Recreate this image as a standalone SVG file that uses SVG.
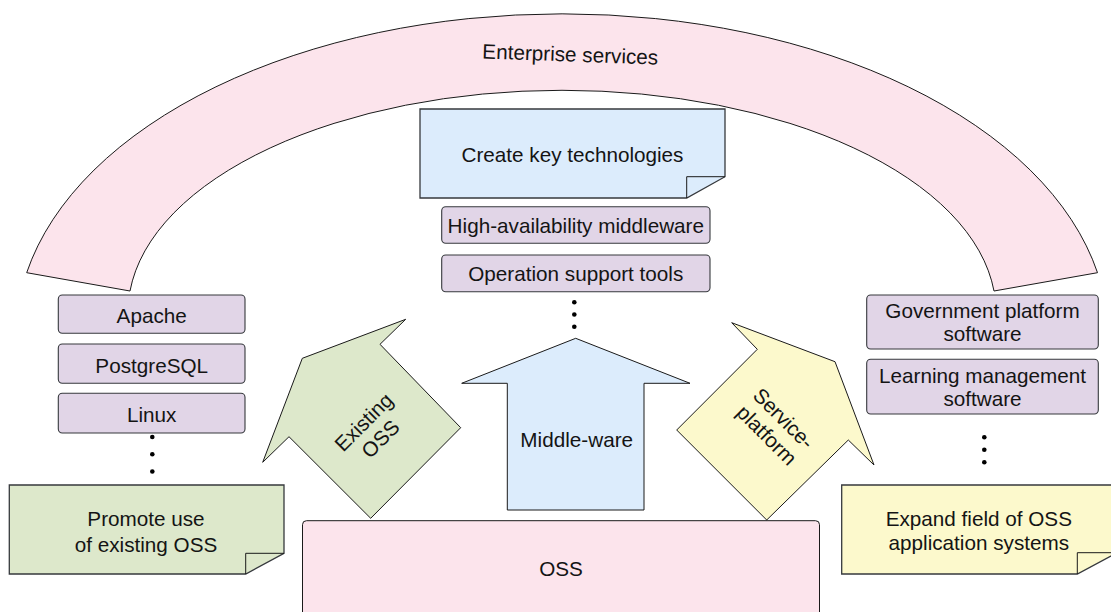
<svg xmlns="http://www.w3.org/2000/svg" width="1111" height="612" viewBox="0 0 1111 612">
<defs>
<style>
.t{font-family:"Liberation Sans",Arial,Helvetica,sans-serif;font-size:20.7px;fill:#141414;text-anchor:middle}
.box{fill:#e1d5e7;stroke:#36393d;stroke-width:1.1}
.pink{fill:#fce4ec;stroke:#1a1a1a;stroke-width:1}
.blue{fill:#dcecfc;stroke:#1a1a1a;stroke-width:1}
.green{fill:#dde8cb;stroke:#1a1a1a;stroke-width:1}
.yellow{fill:#fcf9cc;stroke:#1a1a1a;stroke-width:1}
.note{stroke:#36393d;stroke-width:1.3}
.fold{fill:none;stroke:#1a1a1a;stroke-width:1}
.dot{fill:#000}
</style>
</defs>
<rect width="1111" height="612" fill="#ffffff"/>

<g id="enterprise-services">
<path class="pink" d="M26.7,272.7 A546,322 0 0 1 1097.5,272.7 L994,291 A434,222 0 0 0 130,291 Z"/>
<text class="t" transform="translate(570,61.5) rotate(2)">Enterprise services</text>
</g>

<g id="oss">
<rect class="pink" x="302.5" y="520.7" width="517" height="110" rx="4"/>
<text class="t" x="561" y="575.5">OSS</text>
</g>

<g id="create-key-technologies">
<path class="blue note" d="M420,109 H725 V176.7 L686.7,198 H420 Z"/>
<path class="fold" d="M686.7,198 V176.7 H725"/>
<text class="t" x="572.5" y="161.7">Create key technologies</text>
</g>

<g id="high-availability-middleware">
<rect class="box" x="441.7" y="206.7" width="268.3" height="36.6" rx="4"/>
<text class="t" x="575.8" y="232.7">High-availability middleware</text>
</g>

<g id="operation-support-tools">
<rect class="box" x="441.7" y="255" width="268.3" height="36.7" rx="4"/>
<text class="t" x="575.8" y="281">Operation support tools</text>
</g>

<g id="middle-dots">
<circle class="dot" cx="574.3" cy="302.3" r="2.3"/>
<circle class="dot" cx="574.3" cy="314.5" r="2.3"/>
<circle class="dot" cx="574.3" cy="326.7" r="2.3"/>
</g>

<g id="apache">
<rect class="box" x="58.3" y="295" width="186.7" height="38.3" rx="4"/>
<text class="t" x="151.7" y="322.7">Apache</text>
</g>
<g id="postgresql">
<rect class="box" x="58.3" y="344" width="186.7" height="39.3" rx="4"/>
<text class="t" x="151.7" y="372.7">PostgreSQL</text>
</g>
<g id="linux">
<rect class="box" x="58.3" y="393.3" width="186.7" height="39.7" rx="4"/>
<text class="t" x="151.7" y="421.7">Linux</text>
</g>
<g id="left-dots">
<circle class="dot" cx="152.3" cy="437" r="2.3"/>
<circle class="dot" cx="152.3" cy="454.3" r="2.3"/>
<circle class="dot" cx="152.3" cy="471.5" r="2.3"/>
</g>

<g id="government-platform-software">
<rect class="box" x="866.7" y="295" width="231.6" height="54" rx="4"/>
<text class="t" x="982.5" y="318.3">Government platform</text>
<text class="t" x="982.5" y="341.3">software</text>
</g>
<g id="learning-management-software">
<rect class="box" x="866.7" y="359.3" width="231.6" height="54.7" rx="4"/>
<text class="t" x="982.5" y="382.7">Learning management</text>
<text class="t" x="982.5" y="405.5">software</text>
</g>
<g id="right-dots">
<circle class="dot" cx="984.3" cy="437.3" r="2.3"/>
<circle class="dot" cx="984.3" cy="449.8" r="2.3"/>
<circle class="dot" cx="984.3" cy="462.3" r="2.3"/>
</g>

<g id="promote-use">
<path class="green note" d="M9.3,485 H284 V553.3 L245.7,574 H9.3 Z"/>
<path class="fold" d="M245.7,574 V553.3 H284"/>
<text class="t" x="146" y="526">Promote use</text>
<text class="t" x="146" y="551.7">of existing OSS</text>
</g>

<g id="expand-field">
<path class="yellow note" d="M841.7,485 H1117 V552.7 L1077.3,574 H841.7 Z"/>
<path class="fold" d="M1077.3,574 V552.7 H1117"/>
<text class="t" x="978.8" y="526">Expand field of OSS</text>
<text class="t" x="978.8" y="549.5">application systems</text>
</g>

<g id="existing-oss-arrow">
<polygon class="green" points="405.7,319.3 380,344.3 460.7,427.7 370.7,518.3 289,436.7 262.7,462.3 302.3,358.3"/>
<g transform="translate(372,430.4) rotate(-45)">
<text class="t" x="0" y="-4.6">Existing</text>
<text class="t" x="0" y="19.2">OSS</text>
</g>
</g>

<g id="middle-ware-arrow">
<polygon class="blue" points="575.7,338.3 690,383.3 644,383.3 644,510 507.3,510 507.3,383.3 461.7,383.3"/>
<text class="t" x="576.7" y="446.7">Middle-ware</text>
</g>

<g id="service-platform-arrow">
<polygon class="yellow" points="731.7,322.7 757.3,349.3 676.7,430 766.7,520 848.3,440 874,465 835,361.7"/>
<g transform="translate(775.3,426.7) rotate(45)">
<text class="t" x="0" y="-4.6">Service-</text>
<text class="t" x="0" y="19.2">platform</text>
</g>
</g>

<g id="connectors"></g>
</svg>
